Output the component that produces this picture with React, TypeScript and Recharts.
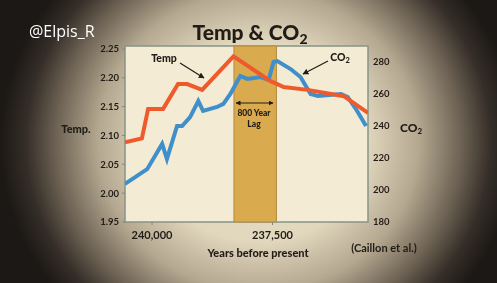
import { LineChart, Line, XAxis, YAxis, ReferenceArea } from "recharts";

// years before present (axis runs from older on the left to younger on the right)
const tempYears = [240560, 240210, 240080, 239770, 239460, 239270, 238960, 238310, 237540, 237400, 237270, 236770, 236020, 235880, 235520];
const tempValues = [2.088, 2.095, 2.146, 2.146, 2.189, 2.189, 2.179, 2.237, 2.194, 2.189, 2.184, 2.179, 2.168, 2.16, 2.139];

const co2Years = [240560, 240310, 240100, 239790, 239690, 239480, 239375, 239210, 239040, 238940, 238650, 238520, 238375, 238170, 238020, 237750, 237580, 237480, 237400, 237125, 236920, 236710, 236560, 236080, 235940, 235770, 235560];
const co2Values = [203.8, 208.8, 213, 228.8, 219.4, 240, 240, 245.6, 255.6, 249.4, 251.9, 253.8, 260, 271.3, 269.4, 270.6, 268.8, 280, 280.6, 275.6, 270.6, 260, 258.8, 260, 258, 250.6, 240];

const yearTicks = [240000, 237500];
const tempTicks = [1.95, 2.0, 2.05, 2.1, 2.15, 2.2, 2.25];
const co2Ticks = [180, 200, 220, 240, 260, 280];
const lagStart = 238300;
const lagEnd = 237420;

const tempData = tempYears.map((year, i) => ({ year, temp: tempValues[i] }));
const co2Data = co2Years.map((year, i) => ({ year, co2: co2Values[i] }));

const xDomain = [235520, 240560];
const ink = "#221c17";
const tickStyle = { fill: ink, fontSize: 9.5, fontWeight: 700, fontFamily: "Lato" };

export default function App() {
  return (
    <div
      style={{
        position: "fixed",
        left: 0,
        top: 0,
        width: 497,
        height: 283,
        overflow: "hidden",
        background:
          "radial-gradient(ellipse 52% 85% at 52% 50%, #ebe2ca 0%, #e1d7bd 42%, #b4a890 62%, #6f6455 78%, #352e28 90%, #1b1815 100%)",
      }}
    >
      <LineChart width={497} height={283} margin={{ top: 46, right: 0, left: 0, bottom: 0 }}>
        <XAxis
          xAxisId="x"
          type="number"
          dataKey="year"
          domain={xDomain}
          allowDataOverflow
          reversed
          ticks={yearTicks}
          tickFormatter={(v: number) => v.toLocaleString("en-US")}
          height={61}
          axisLine={false}
          tickSize={3}
          tickMargin={6}
          tickLine={{ stroke: "#7d8a80" }}
          tick={{ ...tickStyle, fontSize: 11 }}
        />
        <YAxis
          yAxisId="temp"
          orientation="left"
          width={125}
          domain={[1.95, 2.255]}
          allowDataOverflow
          ticks={tempTicks}
          tickFormatter={(v: number) => v.toFixed(2)}
          axisLine={false}
          tickSize={3}
          tickMargin={3}
          tickLine={{ stroke: "#7d8a80" }}
          tick={tickStyle}
        />
        <YAxis
          yAxisId="co2"
          orientation="right"
          width={129}
          domain={[180, 290]}
          allowDataOverflow
          ticks={co2Ticks}
          axisLine={false}
          tickSize={0}
          tickMargin={5}
          tick={tickStyle}
        />
        <ReferenceArea
          xAxisId="x"
          yAxisId="temp"
          x1={xDomain[0]}
          x2={xDomain[1]}
          fill="#f3ebd4"
          fillOpacity={1}
          stroke="#879488"
          strokeWidth={1.5}
        />
        <ReferenceArea
          xAxisId="x"
          yAxisId="temp"
          x1={lagStart}
          x2={lagEnd}
          fill="#d9aa4e"
          fillOpacity={1}
          stroke="#b48a3a"
          strokeWidth={1}
        />
        <Line
          xAxisId="x"
          yAxisId="co2"
          data={co2Data}
          dataKey="co2"
          type="linear"
          stroke="#3f8fca"
          strokeWidth={4}
          dot={false}
          isAnimationActive={false}
        />
        <Line
          xAxisId="x"
          yAxisId="temp"
          data={tempData}
          dataKey="temp"
          type="linear"
          stroke="#ef5a2c"
          strokeWidth={4}
          dot={false}
          isAnimationActive={false}
        />
      </LineChart>

      <svg
        width={497}
        height={283}
        style={{ position: "absolute", left: 0, top: 0, pointerEvents: "none" }}
      >
        <defs>
          <marker id="head" viewBox="0 0 10 10" refX="9" refY="5" markerWidth="5" markerHeight="5" orient="auto-start-reverse">
            <path d="M0,0 L10,5 L0,10 z" fill={ink} />
          </marker>
        </defs>
        <text x={29} y={37} fill="#ffffff" fontSize={16} fontFamily="Open Sans">
          @Elpis_R
        </text>
        <text x={250} y={40} textAnchor="middle" fill={ink} fontSize={21} fontWeight={900} fontFamily="Lato">
          Temp &amp; CO<tspan fontSize={14} dy={4}>2</tspan>
        </text>

        <text x={164} y={62} textAnchor="middle" fill={ink} fontSize={10.5} fontWeight={900} fontFamily="Lato">
          Temp
        </text>
        <line x1={180} y1={63} x2={204} y2={78} stroke={ink} strokeWidth={1.2} markerEnd="url(#head)" />

        <text x={340} y={61} textAnchor="middle" fill={ink} fontSize={10.5} fontWeight={900} fontFamily="Lato">
          CO<tspan fontSize={7.5} dy={2}>2</tspan>
        </text>
        <line x1={328} y1={61} x2={303} y2={74} stroke={ink} strokeWidth={1.2} markerEnd="url(#head)" />

        <line x1={236} y1={103} x2={273} y2={103} stroke={ink} strokeWidth={1} markerStart="url(#head)" markerEnd="url(#head)" />
        <text x={254} y={116} textAnchor="middle" fill={ink} fontSize={8.5} fontWeight={900} fontFamily="Lato">
          800 Year
        </text>
        <text x={254} y={127} textAnchor="middle" fill={ink} fontSize={8.5} fontWeight={900} fontFamily="Lato">
          Lag
        </text>

        <text x={76} y={133} textAnchor="middle" fill={ink} fontSize={11} fontWeight={900} fontFamily="Lato">
          Temp.
        </text>
        <text x={400} y={132} fill={ink} fontSize={12} fontWeight={900} fontFamily="Lato">
          CO<tspan fontSize={8} dy={2}>2</tspan>
        </text>

        <text x={258} y={257} textAnchor="middle" fill={ink} fontSize={11} fontWeight={900} fontFamily="Lato">
          Years before present
        </text>
        <text x={384} y={252} textAnchor="middle" fill={ink} fontSize={11} fontWeight={700} fontFamily="Lato">
          (Caillon et al.)
        </text>
      </svg>
    </div>
  );
}
